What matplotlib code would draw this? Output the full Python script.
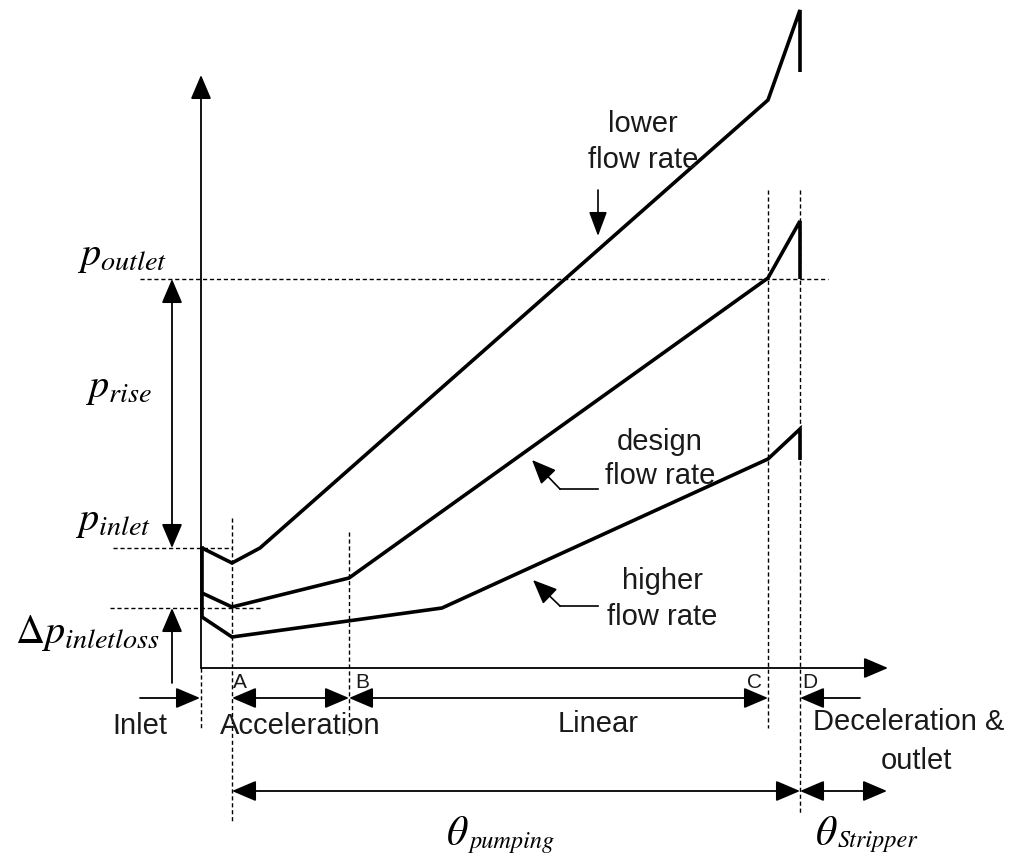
import matplotlib
matplotlib.use('Agg')
import matplotlib.pyplot as plt

plt.rcParams['mathtext.fontset'] = 'stix'
SANS = 'Liberation Sans'

# ---------------- data (image-style units: x = angle, y = pressure, inverted) -----
inlet_x = 201
stage_labels = ['A', 'B', 'C', 'D']
stage_x = [232, 349, 768, 800]

lower_x = [202, 232, 260, 768, 800, 800]
lower_p = [548, 563, 548, 100, 10, 72]
design_x = [202, 232, 349, 768, 800, 800]
design_p = [593, 607, 578, 278, 221, 279]
higher_x = [202, 232, 442, 768, 800, 800]
higher_p = [617, 637, 608, 459, 429, 460]

p_outlet = 279
p_inlet = 548
p_loss = 608

section_names = ['Inlet', 'Acceleration', 'Linear', 'Deceleration &', 'outlet']
curve_names = [('lower', 'flow rate'), ('design', 'flow rate'), ('higher', 'flow rate')]

# ---------------- figure ----------------
fig = plt.figure(figsize=(10.28, 8.58), dpi=100)
ax = fig.add_axes([0, 0, 1, 1])
ax.set_xlim(0, 1028)
ax.set_ylim(858, 0)
ax.axis('off')

K = 'black'


def arrow(x0, y0, x1, y1, style='-|>', lw=1.3, ms=20, hl=0.75, hw=0.32):
    ax.annotate('', xy=(x1, y1), xytext=(x0, y0),
                arrowprops=dict(arrowstyle=f'{style},head_length={hl},head_width={hw}',
                                lw=lw, color=K, shrinkA=0, shrinkB=0,
                                mutation_scale=ms))


def dashed(xs, ys):
    ax.plot(xs, ys, color=K, lw=1.0, linestyle=(0, (3, 2)))


# axes
arrow(inlet_x, 668, inlet_x, 75)
arrow(inlet_x, 668, 888, 668)

# curves
for xs, ys in [(lower_x, lower_p), (design_x, design_p), (higher_x, higher_p)]:
    ax.plot(xs, ys, color=K, lw=2.6, solid_joinstyle='miter', solid_capstyle='butt')
ax.plot([lower_x[0], lower_x[0]], [lower_p[0], higher_p[0]], color=K, lw=2.6)

# dashed reference lines
dashed([140, 828], [p_outlet, p_outlet])
dashed([113, stage_x[0]], [p_inlet, p_inlet])
dashed([110, 262], [p_loss, p_loss])
dashed([inlet_x, inlet_x], [668, 730])
dashed([stage_x[0]] * 2, [518, 822])
dashed([stage_x[1]] * 2, [532, 735])
dashed([stage_x[2]] * 2, [190, 728])
dashed([stage_x[3]] * 2, [190, 815])

# pressure arrows
arrow(172, p_outlet, 172, p_inlet, style='<|-|>')
arrow(172, 683, 172, p_loss)

# section arrows
yA = 698
arrow(140, yA, inlet_x - 1, yA)
arrow(stage_x[0], yA, stage_x[1], yA, style='<|-|>')
arrow(stage_x[1], yA, stage_x[2], yA, style='<|-|>')
arrow(860, yA, stage_x[3], yA)
yT = 791
arrow(stage_x[0], yT, stage_x[3], yT, style='<|-|>')
arrow(stage_x[3], yT, 887, yT, style='<|-|>')

# curve label arrows
arrow(598, 190, 598, 236, lw=1.2, hw=0.28)
ax.plot([598, 560], [489, 489], color=K, lw=1.2)
arrow(560, 489, 532, 460, lw=1.2)
ax.plot([598, 560], [606, 606], color=K, lw=1.2)
arrow(560, 606, 533, 580, lw=1.2)

# curve labels
fs = 21
TC = '#1a1a1a'
for (a, b), (cx, y1, y2) in zip(curve_names, [(643, 124, 160), (660, 442, 476), (662, 581, 617)]):
    ax.text(cx, y1, a, ha='center', va='center', fontsize=fs, family=SANS, color=TC)
    ax.text(cx, y2, b, ha='center', va='center', fontsize=fs, family=SANS, color=TC)

# stage letters
for lab, lx in zip(stage_labels, [240, 362, 754, 810]):
    ax.text(lx, 683, lab, ha='center', va='center', fontsize=15, family=SANS, color=TC)

# section names
ax.text(140, 726, section_names[0], ha='center', va='center', fontsize=fs, family=SANS, color=TC)
ax.text(300, 726, section_names[1], ha='center', va='center', fontsize=fs, family=SANS, color=TC)
ax.text(598, 724, section_names[2], ha='center', va='center', fontsize=fs, family=SANS, color=TC)
ax.text(813, 722, section_names[3], ha='left', va='center', fontsize=fs, family=SANS, color=TC)
ax.text(916, 761, section_names[4], ha='center', va='center', fontsize=fs, family=SANS, color=TC)

# pressure labels
mfs = 29
ax.text(77, 265, r'$p_{outlet}$', ha='left', va='baseline', fontsize=mfs)
ax.text(85, 397, r'$p_{rise}$', ha='left', va='baseline', fontsize=mfs)
ax.text(75, 530, r'$p_{inlet}$', ha='left', va='baseline', fontsize=mfs)
ax.text(15, 643, r'$\Delta p_{inletloss}$', ha='left', va='baseline', fontsize=mfs)

# angle labels
ax.text(446, 845, r'$\theta$', ha='left', va='baseline', fontsize=30)
ax.text(470, 848, 'pumping', ha='left', va='baseline', fontsize=17.5,
        family='STIXGeneral', style='italic')
ax.text(815, 845, r'$\theta$', ha='left', va='baseline', fontsize=30)
ax.text(838, 847, 'Stripper', ha='left', va='baseline', fontsize=17.5,
        family='STIXGeneral', style='italic')

fig.savefig('out.png', dpi=100)
